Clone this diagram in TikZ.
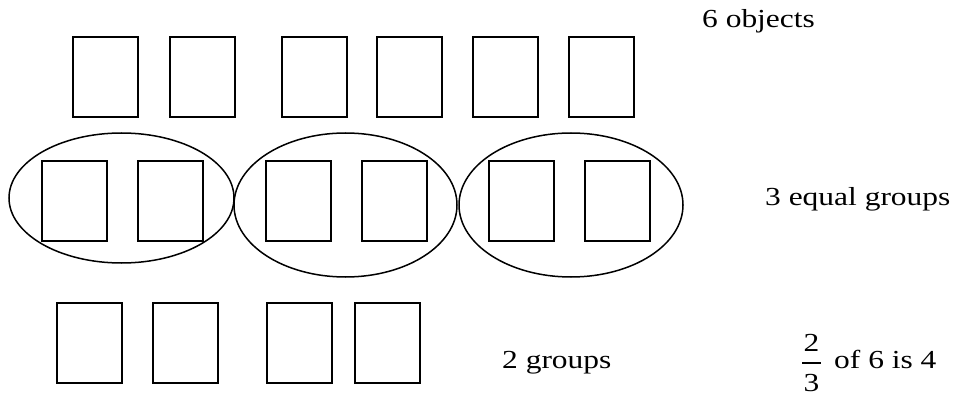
\documentclass[tikz,border=0pt]{standalone}
\usepackage{fontspec}
\setmainfont{Liberation Serif}[FakeStretch=1.21]
\usetikzlibrary{shapes.geometric}
\begin{document}
\begin{tikzpicture}[x=1pt,y=-1pt,
  obj/.style={draw=black,line width=2pt,rectangle,minimum width=65pt,minimum height=80pt,inner sep=0pt},
  grp/.style={draw=black,line width=1.5pt,ellipse,inner sep=0pt},
  lbl/.style={anchor=base west,inner sep=0pt,font=\fontsize{26}{30}\selectfont}]
\useasboundingbox (0,0) rectangle (955,395);
% top row
\node[obj] (t1) at (105.5,77) {};
\node[obj] (t2) at (202,77) {};
\node[obj] (t3) at (314,77) {};
\node[obj] (t4) at (409.5,77) {};
\node[obj] (t5) at (505.5,77) {};
\node[obj] (t6) at (601.5,77) {};
% groups
\node[grp,minimum width=225pt,minimum height=130pt] (g1) at (121.5,198) {};
\node[grp,minimum width=223pt,minimum height=144pt] (g2) at (345.5,205) {};
\node[grp,minimum width=224pt,minimum height=144pt] (g3) at (571,205) {};
% middle row
\node[obj] (m1) at (74,201) {};
\node[obj] (m2) at (170,201) {};
\node[obj] (m3) at (298,201) {};
\node[obj] (m4) at (394,201) {};
\node[obj] (m5) at (521.5,201) {};
\node[obj] (m6) at (617.5,201) {};
% bottom row
\node[obj] (b1) at (89.5,343) {};
\node[obj] (b2) at (185.5,343) {};
\node[obj] (b3) at (299.5,343) {};
\node[obj] (b4) at (387.5,343) {};
% labels
\node[lbl] (l1) at (702,28) {6 objects};
\node[lbl] (l2) at (765,206) {3 equal groups};
\node[lbl] (l3) at (502,368) {2 groups};
\node[lbl] (l4) at (834,368) {of 6 is 4};
\node[lbl,anchor=base] (n2) at (811.5,351) {2};
\node[lbl,anchor=base] (d3) at (811.5,391) {3};
\coordinate (fl) at (802,363);
\coordinate (fr) at (821,363);
\draw[line width=1.2pt] (fl) -- (fr);
\end{tikzpicture}
\end{document}
